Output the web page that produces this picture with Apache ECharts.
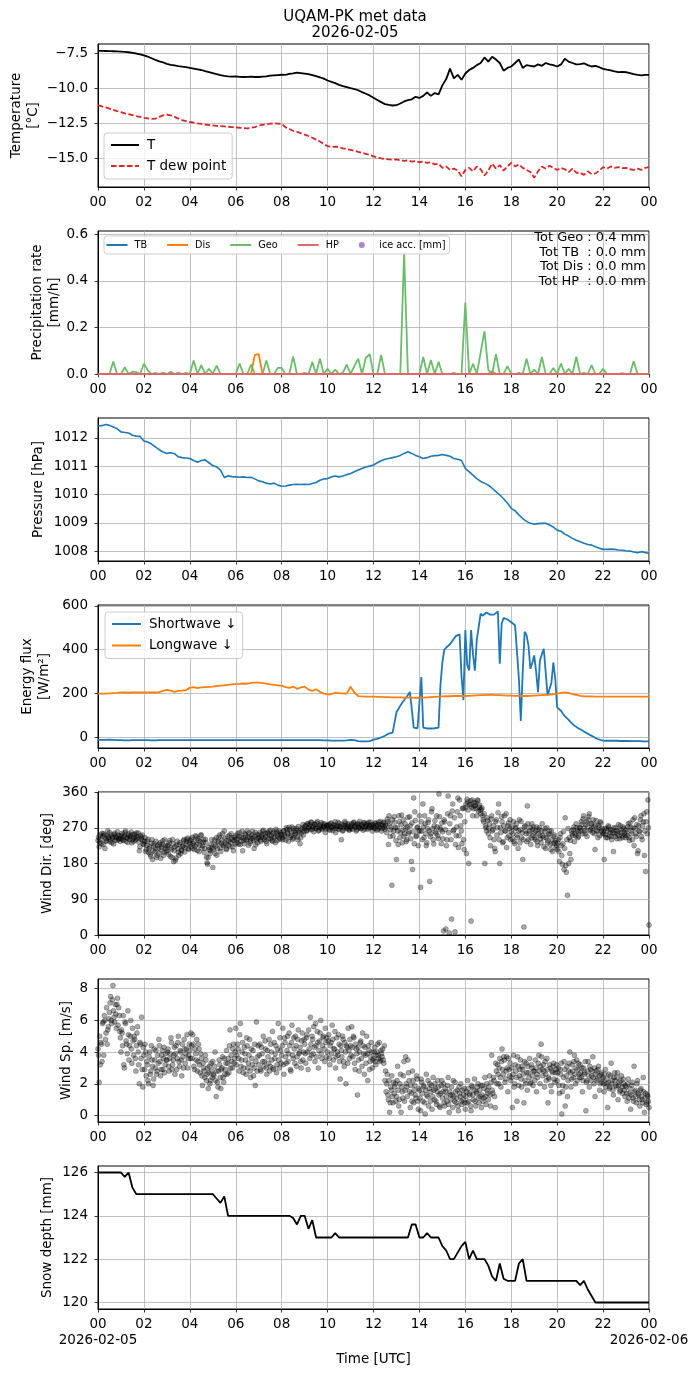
<!DOCTYPE html>
<html>
<head>
<meta charset="utf-8">
<title>UQAM-PK met data</title>
<script src="https://cdn.jsdelivr.net/npm/echarts@6.0.0/dist/echarts.min.js"></script>
<style>
  html, body { margin: 0; padding: 0; background: #fff; }
  #main { width: 699px; height: 1377px; }
</style>
</head>
<body>
<div id="main"></div>
<script>
// ---------- data (hours UTC) ----------

// 10-min values, 00:00 .. 24:00
var T = [
  -7.33,-7.33,-7.34,-7.35,-7.36,-7.37,
  -7.38,-7.40,-7.43,-7.47,-7.52,-7.58,
  -7.65,-7.74,-7.86,-7.98,-8.08,-8.16,
  -8.26,-8.33,-8.37,-8.42,-8.46,-8.49,
  -8.55,-8.60,-8.65,-8.70,-8.78,-8.85,
  -8.93,-9.00,-9.07,-9.12,-9.16,-9.18,
  -9.15,-9.19,-9.20,-9.19,-9.18,-9.20,
  -9.20,-9.17,-9.15,-9.10,-9.08,-9.06,
  -9.04,-9.05,-8.98,-8.94,-8.88,-8.92,
  -8.96,-9.00,-9.06,-9.14,-9.22,-9.32,
  -9.45,-9.55,-9.64,-9.76,-9.85,-9.92,
  -10.00,-10.06,-10.15,-10.28,-10.40,-10.52,
  -10.68,-10.84,-11.00,-11.14,-11.20,-11.24,
  -11.22,-11.10,-10.95,-10.85,-10.80,-10.62,
  -10.70,-10.55,-10.30,-10.55,-10.35,-10.45,
  -9.80,-9.35,-8.60,-9.30,-9.05,-9.40,
  -8.95,-8.70,-8.55,-8.35,-8.20,-7.80,
  -8.10,-7.75,-7.95,-8.20,-8.75,-8.55,
  -8.45,-8.20,-7.95,-8.55,-8.35,-8.40,
  -8.45,-8.30,-8.40,-8.20,-8.30,-8.35,
  -8.45,-8.30,-7.90,-8.10,-8.20,-8.30,
  -8.28,-8.22,-8.35,-8.45,-8.40,-8.50,
  -8.62,-8.68,-8.72,-8.80,-8.85,-8.83,
  -8.86,-8.92,-9.00,-9.05,-9.08,-9.05,
  -9.05
];
var Td = [
  -11.22,-11.30,-11.38,-11.46,-11.55,-11.64,
  -11.72,-11.80,-11.86,-11.93,-12.00,-12.06,
  -12.12,-12.16,-12.20,-12.18,-12.05,-11.95,
  -11.90,-11.95,-12.05,-12.18,-12.28,-12.35,
  -12.42,-12.47,-12.52,-12.56,-12.60,-12.64,
  -12.66,-12.70,-12.72,-12.74,-12.76,-12.78,
  -12.80,-12.83,-12.85,-12.87,-12.84,-12.78,
  -12.68,-12.62,-12.58,-12.54,-12.52,-12.53,
  -12.55,-12.80,-12.92,-13.05,-13.12,-13.22,
  -13.32,-13.42,-13.55,-13.68,-13.82,-13.98,
  -14.15,-14.20,-14.18,-14.22,-14.30,-14.36,
  -14.42,-14.48,-14.55,-14.62,-14.70,-14.78,
  -14.88,-14.96,-15.02,-15.06,-15.10,-15.12,
  -15.10,-15.15,-15.20,-15.15,-15.25,-15.22,
  -15.30,-15.25,-15.35,-15.30,-15.45,-15.40,
  -15.70,-15.60,-15.85,-15.75,-15.90,-16.30,
  -15.85,-15.70,-15.95,-15.60,-15.80,-16.25,
  -15.90,-15.40,-15.75,-15.50,-15.90,-15.60,
  -15.35,-15.60,-15.45,-15.70,-15.85,-16.00,
  -16.40,-15.95,-15.60,-15.75,-15.55,-15.70,
  -15.85,-15.70,-15.80,-16.00,-15.75,-16.05,
  -16.05,-16.20,-15.95,-16.15,-16.10,-15.90,
  -15.65,-15.75,-15.60,-15.70,-15.65,-15.72,
  -15.70,-15.80,-15.85,-15.75,-15.85,-15.70,
  -15.65
];

// precipitation rate [mm/h], 10-min
var precipTB = [
  0,0,0,0,0,0, 0,0,0,0,0,0, 0,0,0,0,0,0, 0,0,0,0,0,0,
  0,0,0,0,0,0, 0,0,0,0,0,0, 0,0,0,0,0,0, 0,0,0,0,0,0,
  0,0,0,0,0,0, 0,0,0,0,0,0, 0,0,0,0,0,0, 0,0,0,0,0,0,
  0,0,0,0,0,0, 0,0,0,0,0,0, 0,0,0,0,0,0, 0,0,0,0,0,0,
  0,0,0,0,0,0, 0,0,0,0,0,0, 0,0,0,0,0,0, 0,0,0,0,0,0,
  0,0,0,0,0,0, 0,0,0,0,0,0, 0,0,0,0,0,0, 0,0,0,0,0,0,
  0
];
var precipDis = [
  0,0,0,0,0,0, 0,0,0,0,0,0, 0,0,0,0,0,0, 0,0,0,0,0,0,
  0,0,0,0,0,0, 0,0,0,0,0,0, 0,0,0,0,0,0.082, 0.085,0,0,0,0,0,
  0,0,0,0,0,0, 0,0,0,0,0,0, 0,0,0,0,0,0, 0,0,0,0,0,0,
  0,0,0,0,0,0, 0,0,0,0,0,0, 0,0,0,0,0,0, 0,0,0,0,0,0,
  0,0,0,0,0,0, 0.0,0.012,0,0,0,0, 0,0,0,0,0,0, 0,0,0,0,0,0,
  0,0,0,0,0,0, 0,0,0,0,0,0, 0,0,0,0,0,0, 0,0,0,0,0,0,
  0
];
var precipGeo = [
  0,0,0,0,0.054,0,
  0,0.029,0,0.01,0.008,0,
  0.044,0.016,0,0.005,0,0.006,
  0,0.01,0,0.006,0,0.005,
  0,0.058,0,0.038,0,0.023,
  0,0.036,0,0,0,0,
  0,0.045,0,0,0.041,0,
  0,0,0.058,0,0,0.026,
  0.026,0,0,0.076,0,0,
  0.005,0,0.051,0,0.066,0,
  0.022,0,0.019,0,0.006,0.041,
  0,0.034,0.066,0,0.07,0.085,
  0,0,0.082,0,0,0,
  0,0,0.52,0,0,0,
  0,0.073,0,0.06,0,0.053,
  0,0,0,0.005,0,0,
  0.307,0,0.044,0,0.092,0.184,
  0.019,0,0.085,0,0,0.034,
  0,0,0.005,0,0.066,0,
  0.019,0,0.073,0,0,0.026,
  0,0.045,0,0.022,0,0.074,
  0,0.005,0,0.038,0,0,
  0.022,0,0,0,0,0.004,
  0,0,0.055,0,0,0,
  0
];
var precipHP = [
  0,0,0,0,0,0, 0,0,0,0,0,0, 0,0,0,0,0,0, 0,0,0,0,0,0,
  0,0,0,0,0,0, 0,0,0,0,0,0, 0,0,0,0,0,0, 0,0,0,0,0,0,
  0,0,0,0,0,0, 0,0,0,0,0,0, 0,0,0,0,0,0, 0,0,0,0,0,0,
  0,0,0,0,0,0, 0,0,0,0,0,0, 0,0,0,0,0,0, 0,0,0,0,0,0,
  0,0,0,0,0,0, 0,0,0,0,0,0, 0,0,0,0,0,0, 0,0,0,0,0,0,
  0,0,0,0,0,0, 0,0,0,0,0,0, 0,0,0,0,0,0, 0,0,0,0,0,0,
  0
];
var iceAcc = [];
var precipTotals = ['Tot Geo : 0.4 mm', 'Tot TB  : 0.0 mm', 'Tot Dis : 0.0 mm', 'Tot HP  : 0.0 mm'];

// pressure [hPa], 10-min
var pressure = [
  1012.42,1012.43,1012.47,1012.44,1012.38,1012.32,
  1012.21,1012.19,1012.17,1012.09,1012.06,1012.05,
  1011.89,1011.85,1011.78,1011.68,1011.58,1011.50,
  1011.45,1011.47,1011.44,1011.33,1011.30,1011.29,
  1011.27,1011.20,1011.14,1011.20,1011.22,1011.12,
  1011.02,1010.97,1010.86,1010.60,1010.66,1010.63,
  1010.62,1010.61,1010.62,1010.60,1010.61,1010.55,
  1010.48,1010.45,1010.40,1010.37,1010.40,1010.33,
  1010.29,1010.30,1010.33,1010.35,1010.36,1010.35,
  1010.36,1010.35,1010.39,1010.42,1010.50,1010.55,
  1010.56,1010.62,1010.65,1010.62,1010.65,1010.70,
  1010.74,1010.80,1010.86,1010.92,1010.97,1011.00,
  1011.04,1011.12,1011.19,1011.24,1011.27,1011.30,
  1011.33,1011.38,1011.45,1011.51,1011.45,1011.38,
  1011.33,1011.27,1011.30,1011.35,1011.37,1011.38,
  1011.41,1011.38,1011.35,1011.27,1011.24,1011.20,
  1010.92,1010.80,1010.68,1010.56,1010.46,1010.40,
  1010.33,1010.22,1010.10,1009.98,1009.85,1009.70,
  1009.51,1009.42,1009.28,1009.15,1009.05,1008.98,
  1008.95,1008.97,1008.98,1008.98,1008.92,1008.85,
  1008.74,1008.70,1008.60,1008.53,1008.45,1008.38,
  1008.33,1008.28,1008.23,1008.21,1008.15,1008.10,
  1008.06,1008.06,1008.07,1008.06,1008.04,1008.03,
  1008.01,1008.00,1007.97,1007.94,1007.98,1007.95,
  1007.92
];

// shortwave down [W/m2], 5-min
var shortwave = [
  -11,-11,-11,-11,-11,-10,-10,-11,-11,-12,-12,-12,
  -12,-12,-13,-13,-13,-13,-12,-12,-12,-12,-12,-12,
  -12,-12,-12,-12,-13,-13,-13,-13,-12,-12,-12,-12,
  -12,-12,-12,-12,-12,-12,-12,-12,-12,-12,-12,-12,
  -12,-12,-12,-12,-12,-12,-12,-12,-12,-12,-12,-12,
  -12,-12,-12,-12,-12,-12,-12,-12,-12,-12,-12,-12,
  -12,-12,-12,-12,-12,-12,-12,-12,-12,-12,-12,-12,
  -12,-12,-12,-12,-12,-12,-12,-12,-12,-12,-12,-12,
  -12,-12,-12,-12,-12,-12,-12,-12,-12,-12,-12,-12,
  -12,-12,-12,-12,-12,-12,-12,-12,-12,-13,-13,-13,
  -13,-13,-14,-14,-14,-14,-14,-14,-14,-13,-13,-13,
  -11,-10,-12,-15,-17,-18,-18,-18,-18,-18,-17,-16,
  -10,-8,-6,-3,0,4,8,12,18,15,22,30,
  115,130,145,158,170,182,194,208,130,45,38,42,
  46,275,45,42,41,41,41,41,42,43,45,240,
  342,400,410,418,425,438,450,462,469,470,280,170,
  490,330,305,490,380,305,445,453,565,555,560,570,
  575,560,555,560,565,575,336,520,545,545,538,530,
  525,520,512,505,267,75,298,482,466,420,313,340,
  374,300,206,351,380,404,401,191,183,250,342,267,
  137,130,122,108,97,88,80,70,62,54,47,42,
  38,33,28,22,17,12,7,3,-2,-7,-10,-12,
  -14,-15,-15,-15,-15,-15,-15,-15,-15,-16,-16,-16,
  -16,-16,-16,-17,-17,-17,-17,-17,-17,-18,-18,-18,
  -18
];
// longwave down [W/m2], 10-min
var longwave = [
  200,200,200,201,202,203,
  206,205,204,205,205,206,
  205,205,206,205,207,212,
  217,214,208,212,214,216,
  226,230,225,228,230,231,
  232,234,236,238,240,242,
  243,244,246,245,249,250,
  250,248,245,242,240,238,
  236,230,226,232,222,228,
  232,218,212,220,208,200,
  196,198,204,202,201,200,
  231,205,189,187,186,186,
  186,185,185,184,184,183,
  183,183,182,182,182,181,
  181,182,183,184,185,186,
  187,188,188,189,189,189,
  189,190,191,192,193,193,
  194,194,193,193,192,191,
  191,190,190,189,189,190,
  191,192,193,194,195,197,
  200,203,206,203,198,194,
  190,188,187,187,186,186,
  186,186,186,186,186,186,
  186,186,186,186,186,186,
  186
];

// wind direction [deg], 3-min samples from 00:00
var windDir = [
  238,222,252,230,248,255,218,236,250,244,258,240,232,247,253,239,245,260,241,249,
  243,256,238,250,262,245,233,251,247,259,240,236,254,248,242,257,212,250,246,238,
  228,245,215,236,208,222,198,240,212,230,218,195,225,206,232,214,228,200,240,218,
  210,226,232,198,215,240,185,222,194,236,208,228,205,212,225,240,220,235,244,215,
  238,222,246,230,215,250,228,242,210,236,252,225,240,218,232,182,195,215,212,240,
  170,228,205,245,218,232,252,210,240,225,262,230,215,248,236,222,255,240,212,246,
  250,232,242,258,228,246,212,238,255,240,262,226,248,236,252,244,218,258,240,232,
  245,258,236,252,264,240,248,230,256,262,242,250,236,260,248,266,238,254,244,258,
  252,240,262,248,270,258,236,265,250,272,244,260,255,268,240,262,230,256,270,252,
  268,276,262,280,270,265,284,272,260,278,268,286,262,274,270,266,280,272,258,276,
  270,278,264,282,272,268,276,258,274,284,266,272,240,262,270,286,274,268,280,264,
  272,280,266,284,274,262,278,270,286,268,276,264,282,272,278,266,284,270,276,262,
  274,268,282,264,278,270,286,262,276,284,266,272,292,228,280,265,125,250,298,270,
  190,262,300,245,278,232,290,255,268,240,296,260,275,185,165,345,310,248,270,225,
  300,120,262,330,245,280,225,268,290,135,255,318,240,275,260,300,250,355,270,230,
  260,10,285,15,240,350,5,300,40,330,265,8,250,310,220,340,275,230,320,215,
  320,205,335,180,328,35,340,318,325,332,300,338,322,315,316,300,285,180,270,295,
  255,280,225,300,265,240,210,290,270,330,180,258,285,235,300,262,220,275,250,290,
  260,242,285,230,270,252,218,290,265,245,190,20,275,255,325,240,262,228,280,250,
  258,240,272,225,265,250,232,280,245,260,218,270,238,255,228,262,210,248,232,220,
  215,240,185,255,200,230,165,295,158,100,180,205,190,255,265,235,250,270,245,260,
  270,285,255,300,262,278,248,290,305,265,280,258,272,215,288,262,276,250,282,268,
  260,190,252,268,245,272,258,248,264,210,255,270,242,262,250,275,258,245,268,252,
  265,250,280,238,270,255,290,225,268,248,205,275,260,300,240,285,200,160,310,340,
  25
];
// wind direction [deg], 3-min samples from 00:01:30
var windDirB = [
  246,233,241,256,228,251,243,237,262,247,235,252,244,229,256,248,238,251,243,236,
  251,240,247,258,236,244,255,241,249,232,253,245,239,257,246,234,222,241,252,229,
  235,210,226,241,217,203,231,190,224,209,236,201,218,228,193,221,237,208,225,212,
  224,203,238,219,195,229,212,188,226,217,201,233,214,222,238,209,228,241,218,232,
  229,241,218,235,224,247,213,238,226,251,219,233,208,241,196,178,221,205,228,219,
  215,239,224,201,236,247,219,231,255,228,243,217,238,226,251,233,244,222,238,229,
  241,255,229,248,236,261,244,230,252,239,246,257,231,243,261,238,249,227,253,244,
  252,239,247,261,244,255,236,258,243,251,264,238,256,245,232,259,249,262,241,253,
  245,262,251,239,266,254,271,246,259,241,268,252,263,247,273,258,244,266,278,261,
  274,263,281,269,277,284,266,273,279,268,282,271,264,277,283,269,274,280,267,275,
  276,266,280,271,263,277,285,269,275,267,281,273,278,264,276,282,270,277,265,273,
  268,277,283,271,276,265,281,274,269,279,272,283,267,275,281,270,276,284,271,278,
  270,281,276,266,284,272,278,268,282,271,277,258,285,300,248,272,290,262,284,238,
  270,228,285,258,302,264,248,280,235,272,255,298,242,282,260,230,288,250,272,262,
  262,285,240,272,300,255,232,283,262,248,310,268,229,288,256,272,243,298,265,282,
  242,290,265,225,305,258,280,240,312,262,295,228,272,345,250,300,262,318,240,285,
  330,342,315,328,338,322,300,334,326,318,340,312,327,305,320,290,305,275,262,288,
  268,245,292,262,275,218,285,252,308,240,270,298,232,275,262,305,245,282,268,240,
  272,255,235,268,280,245,262,232,286,258,240,272,262,235,280,255,270,244,266,272,
  245,262,235,255,270,242,262,250,222,268,245,232,252,262,215,240,230,252,238,226,
  232,210,245,225,178,260,218,175,240,268,245,238,262,250,272,256,280,262,248,270,
  262,278,292,268,255,285,272,298,262,280,268,290,255,276,262,245,270,285,262,255,
  255,268,245,262,275,250,265,240,258,270,248,262,255,278,242,265,250,272,258,245,
  258,272,245,282,262,240,270,295,255,278,212,262,290,248,275,305,262,285,255,270
];
// wind speed [m/s], 3-min samples from 00:00
var windSpd = [
  4.2,2.1,3.2,4.5,5.8,3.8,6.0,5.2,4.5,5.6,6.5,7.5,5.8,8.2,6.2,7.0,5.5,7.4,6.8,5.3,
  4.0,5.2,6.3,3.0,5.8,4.5,6.6,3.5,5.0,4.2,5.5,3.8,4.8,2.8,5.2,4.0,2.0,4.5,6.2,1.8,
  3.8,4.5,2.5,3.2,2.0,4.0,2.8,3.5,1.9,4.2,3.0,2.6,3.8,4.8,3.4,2.9,4.1,3.6,2.7,3.9,
  3.5,4.2,2.8,3.9,4.6,3.2,3.8,2.6,4.4,3.6,5.0,3.1,4.0,2.5,3.7,4.8,3.3,4.2,3.0,3.8,
  4.1,5.2,3.6,4.5,2.9,3.9,4.8,3.4,4.2,2.7,3.6,1.9,3.0,2.4,3.5,2.6,1.7,3.1,2.2,2.8,
  3.4,2.5,4.0,1.2,2.1,2.8,3.2,1.7,3.0,2.4,3.6,2.9,4.1,3.3,2.7,5.4,3.8,3.0,4.5,3.6,
  5.5,3.8,4.2,2.8,5.8,3.5,4.6,3.0,3.9,2.6,4.4,3.3,4.8,2.4,3.6,4.1,3.0,1.9,5.9,3.7,
  3.2,4.5,2.8,3.9,5.0,3.4,4.2,2.6,3.7,4.8,3.1,4.0,5.3,2.9,3.6,4.4,3.2,5.8,3.0,4.1,
  3.8,5.5,2.6,4.6,3.3,5.0,3.9,4.4,2.8,5.7,3.6,4.2,5.0,3.1,4.8,3.9,4.3,3.0,5.2,4.0,
  4.5,3.3,5.1,2.9,4.2,6.2,3.8,4.8,5.6,3.4,4.4,5.3,3.0,4.7,6.0,3.6,4.9,4.2,5.5,3.7,
  4.0,5.1,3.2,4.6,5.7,3.5,4.2,3.0,4.9,3.8,4.5,2.3,4.1,5.0,3.4,4.6,2.0,4.3,5.5,3.6,
  4.4,5.6,3.7,4.9,2.9,4.2,1.3,3.5,4.0,4.7,3.1,4.4,2.6,3.8,5.0,2.2,4.1,3.4,4.6,3.0,
  3.6,4.3,3.2,4.0,3.8,4.6,3.5,3.9,4.2,3.3,2.2,1.5,2.6,1.0,0.2,1.8,2.5,0.8,1.4,2.0,
  1.2,3.1,0.6,2.0,0.2,1.5,2.5,0.9,3.7,1.8,3.5,2.2,0.5,1.4,2.8,0.8,1.9,1.1,2.3,0.4,
  1.6,0.3,2.1,0.9,1.8,0.1,2.6,1.2,0.6,2.0,1.5,0.4,2.4,1.0,1.7,0.7,2.2,1.3,0.5,1.9,
  1.1,2.0,0.6,1.5,0.9,2.4,0.2,1.3,1.8,0.5,1.2,2.1,0.8,1.6,0.3,1.4,2.0,0.7,1.0,1.7,
  0.4,1.5,2.2,0.9,1.3,0.3,1.8,1.0,2.3,0.6,1.4,2.0,0.8,1.2,0.5,1.9,1.1,2.4,0.7,1.6,
  1.0,2.5,0.6,3.8,1.4,2.2,0.5,2.8,3.2,2.0,3.6,1.8,4.2,2.6,3.5,2.3,3.7,1.5,2.9,3.3,
  2.4,0.5,3.8,2.0,2.8,0.9,3.1,2.5,3.5,1.8,2.9,0.8,2.2,3.3,1.6,2.7,3.6,2.1,3.0,1.9,
  2.8,3.5,1.5,2.4,3.8,2.0,4.5,2.9,3.2,1.8,2.6,3.6,0.8,2.3,3.0,1.5,2.7,3.3,2.1,2.9,
  2.2,3.0,1.4,2.6,0.1,1.9,3.4,0.6,2.5,1.2,2.8,4.0,1.8,3.2,2.4,3.8,2.0,3.5,2.9,2.6,
  3.2,2.4,1.5,3.0,2.7,0.3,2.2,3.4,1.8,2.9,2.5,3.7,2.0,1.2,2.8,2.3,3.1,1.6,2.6,2.1,
  2.4,1.5,2.9,2.0,0.5,2.6,1.8,3.3,2.2,1.3,2.7,1.9,2.4,1.0,2.1,1.6,2.5,1.4,2.0,1.2,
  1.8,0.9,2.3,1.4,0.4,1.9,1.1,3.1,1.6,0.8,2.2,1.3,0.6,1.7,1.0,2.4,0.2,1.4,0.8,1.2,
  0.5
];
// wind speed [m/s], 3-min samples from 00:01:30
var windSpdB = [
  3.8,5.0,4.6,3.4,5.9,6.3,4.8,6.8,5.4,6.1,7.1,6.0,7.3,6.6,5.9,6.4,7.0,5.7,6.3,4.9,
  5.4,4.4,3.2,5.9,4.7,3.9,5.1,4.4,6.0,3.3,4.7,5.0,3.6,4.4,5.6,3.2,4.6,3.6,2.9,4.3,
  2.9,4.0,3.4,2.2,3.7,2.6,4.4,3.1,2.3,3.5,4.1,2.8,3.3,4.4,2.5,3.8,2.9,4.3,3.2,3.5,
  4.0,3.1,3.6,4.9,2.9,3.5,4.3,3.9,2.9,4.6,3.4,4.1,3.5,4.5,3.0,4.2,3.9,5.1,3.6,4.5,
  3.6,4.4,5.1,3.1,4.2,3.5,2.8,4.5,3.2,3.9,2.5,3.3,2.8,3.8,2.2,3.0,2.7,2.0,3.3,2.4,
  2.6,3.1,2.2,2.8,1.8,3.5,2.4,2.9,3.7,2.1,2.6,3.3,2.6,3.6,4.4,3.0,3.4,4.2,3.3,4.0,
  3.2,4.5,3.6,5.1,3.1,4.0,2.7,4.3,3.5,4.9,3.0,3.8,2.8,4.2,3.2,2.5,4.5,3.4,2.8,4.4,
  3.8,2.9,4.3,3.4,3.1,4.7,3.0,4.1,3.3,2.8,4.5,3.5,3.0,4.6,3.9,2.7,4.2,3.5,4.9,3.3,
  4.4,3.2,4.9,3.7,4.1,3.4,5.2,2.9,4.6,3.8,4.9,3.3,4.4,3.7,5.4,4.0,3.4,4.7,3.5,4.8,
  3.9,4.9,4.0,5.4,3.6,4.5,5.0,3.9,4.3,5.8,3.7,4.6,4.1,5.2,3.9,4.4,5.0,3.4,4.6,4.9,
  4.7,3.6,4.4,3.9,4.8,4.2,5.3,3.7,4.0,5.1,3.4,4.4,3.7,4.8,3.1,4.0,4.4,3.3,4.1,4.8,
  3.8,4.3,5.0,3.3,4.5,3.9,4.3,2.8,4.6,3.6,5.2,3.9,4.3,3.3,3.9,4.4,2.9,3.7,4.0,3.5,
  4.0,3.4,3.8,4.5,3.6,3.4,4.1,3.7,3.5,4.4,2.8,2.0,1.3,2.2,0.8,1.6,1.2,2.1,1.8,0.9,
  2.2,1.6,1.0,2.6,1.8,1.1,3.4,1.6,2.0,1.2,2.7,1.5,1.9,0.9,2.2,1.6,1.3,2.5,0.9,1.7,
  1.1,2.3,1.4,1.9,0.8,1.6,1.3,2.2,1.7,0.9,1.9,1.2,1.6,2.0,0.9,1.5,1.8,0.6,1.4,2.2,
  1.5,0.8,1.7,1.2,1.9,0.7,1.5,1.0,1.3,2.2,0.9,1.5,1.1,0.6,1.8,1.2,0.9,1.6,1.3,0.8,
  1.2,0.8,1.7,1.4,0.6,1.9,1.3,1.6,0.9,1.5,1.8,1.1,1.6,1.9,1.3,0.9,1.7,1.2,2.0,1.4,
  1.8,1.3,2.1,1.6,2.4,1.2,3.3,2.0,2.6,3.0,2.4,3.4,2.9,3.7,2.1,2.8,3.0,3.6,2.5,2.2,
  3.0,2.6,1.8,3.2,2.4,3.7,1.9,2.9,2.3,3.1,2.6,3.4,2.0,2.7,3.1,2.4,2.0,3.2,2.5,2.8,
  2.2,3.0,2.6,3.3,2.8,3.1,3.7,2.5,2.8,3.4,2.2,2.9,2.4,3.2,1.9,2.8,3.1,2.3,2.7,3.2,
  2.7,1.9,2.9,3.3,1.5,2.4,2.9,1.8,3.1,2.2,3.3,2.7,2.3,2.8,3.4,2.6,3.0,2.2,3.3,2.4,
  2.7,3.0,2.2,2.6,3.4,2.1,2.8,2.5,3.1,2.2,2.8,2.4,3.0,2.6,2.2,2.9,2.5,2.0,2.7,2.3,
  2.0,2.6,1.8,2.3,2.1,1.7,2.5,2.0,1.6,2.4,2.2,1.8,2.7,1.9,1.5,2.2,1.8,2.3,1.6,1.9,
  1.4,2.0,1.1,1.7,1.3,2.1,0.9,1.5,1.2,2.0,1.4,1.0,1.6,1.2,0.8,1.5,1.1,0.7,1.3,0.9
];

// snow depth [mm], 10-min
var snowDepth = [
  126,126,126,126,126,126,
  126,125.8,126,125.3,125,125,
  125,125,125,125,125,125,
  125,125,125,125,125,125,
  125,125,125,125,125,125,
  125,124.8,124.6,124.9,124,124,
  124,124,124,124,124,124,
  124,124,124,124,124,124,
  124,124,124,123.9,123.6,124,
  124,123.4,123.8,123,123,123,
  123,123,123.2,123,123,123,
  123,123,123,123,123,123,
  123,123,123,123,123,123,
  123,123,123,123,123.6,123.6,
  123,123,123.2,123,123,123,
  122.6,122.4,122,122,122.3,122.6,
  122.8,122,122.4,122,122,122,
  121.7,121.2,121,121.8,121.1,121,
  121,121,121.8,122,121,121,
  121,121,121,121,121,121,
  121,121,121,121,121,121,
  120.8,121,120.6,120.3,120,120,
  120,120,120,120,120,120,
  120,120,120,120,120,120,
  120
];

// tick labels per panel
var tempTicks = [-15, -12.5, -10, -7.5];
var precipTicks = [0, 0.2, 0.4, 0.6];
var pressTicks = [1008, 1009, 1010, 1011, 1012];
var fluxTicks = [0, 200, 400, 600];
var dirTicks = [0, 90, 180, 270, 360];
var spdTicks = [0, 2, 4, 6, 8];
var snowTicks = [120, 122, 124, 126];
var dayLabels = ['2026-02-05', '2026-02-06'];

// ---------- chart ----------
var FONT = 'DejaVu Sans';
var tops = [44, 231, 418, 605, 792, 979, 1166];
var lineColor = '#000';

// sample index -> hour of day
function pairs(values, perHour, offset) {
    var o = offset || 0;
    return values.map(function (v, i) { return [(i + o) / perHour, v]; });
}

function hourLabel(v) {
    var h = Math.round(v) % 24;
    return (h < 10 ? '0' : '') + h;
}

function xAxisFor(i) {
    var last = i === tops.length - 1;
    return {
        type: 'value', gridIndex: i, min: 0, max: 24, interval: 2,
        name: last ? 'Time [UTC]' : '',
        nameLocation: 'middle', nameGap: 43, nameMoveOverlap: false,
        nameTextStyle: { color: '#000', fontFamily: FONT, fontSize: 13.5 },
        axisLine: { show: true, onZero: false, lineStyle: { color: lineColor, width: 1 } },
        axisTick: { length: 3.5, lineStyle: { color: lineColor, width: 0.8 } },
        axisLabel: {
            margin: 8, color: '#000', fontFamily: FONT, fontSize: 13.5,
            showMinLabel: true, showMaxLabel: true, hideOverlap: false,
            formatter: function (v) {
                // the two ends of the last axis are drawn with their dates below
                if (last && (v === 0 || v === 24)) return '';
                return hourLabel(v);
            }
        },
        splitLine: { show: true, lineStyle: { color: '#b0b0b0', width: 0.8 } }
    };
}

function yAxisFor(i, name, gap, min, max, ticks, fmt) {
    return {
        type: 'value', gridIndex: i, min: min, max: max,
        name: name, nameLocation: 'middle', nameGap: gap, nameRotate: 90, nameMoveOverlap: false,
        nameTextStyle: { color: '#000', fontFamily: FONT, fontSize: 13.5, lineHeight: 17 },
        axisLine: { show: true, onZero: false, lineStyle: { color: lineColor, width: 1 } },
        axisTick: { show: true, length: 3.5, customValues: ticks, lineStyle: { color: lineColor, width: 0.8 } },
        axisLabel: { margin: 10, customValues: ticks, color: '#000', fontFamily: FONT, fontSize: 13.5, formatter: fmt },
        splitLine: { show: true, lineStyle: { color: '#b0b0b0', width: 0.8 } }
    };
}

function minus(s) { return String(s).replace('-', '\u2212'); }

function lineSeries(name, grid, data, color, width, dash) {
    var s = {
        name: name, type: 'line', xAxisIndex: grid, yAxisIndex: grid,
        data: data, symbol: 'none', silent: true,
        lineStyle: { color: color, width: width },
        itemStyle: { color: color }
    };
    if (dash) s.lineStyle.type = dash;
    return s;
}

function scatterSeries(name, grid, data) {
    return {
        name: name, type: 'scatter', xAxisIndex: grid, yAxisIndex: grid,
        data: data, symbolSize: 5, silent: true,
        itemStyle: { color: 'rgba(0,0,0,0.42)', borderColor: 'rgba(0,0,0,0.5)', borderWidth: 0.6 }
    };
}

function text(x, y, str, size, align) {
    return { type: 'text', x: x, y: y, z: 100,
             style: { text: str, fill: '#000', fontFamily: FONT, fontSize: size, align: align || 'center', verticalAlign: 'middle' } };
}

var legendBase = {
    selectedMode: false,
    backgroundColor: 'rgba(255,255,255,0.8)',
    borderColor: '#cccccc', borderWidth: 1, borderRadius: 3
};

var dashIcon = 'path://M0,0h5.5v2h-5.5z M8,0h5.5v2h-5.5z M16,0h5.5v2h-5.5z M24,0h4v2h-4z';
var barIcon = 'path://M0,0h21v2h-21z';

var chart = echarts.init(document.getElementById('main'));

var grids = tops.map(function (t) {
    return { left: 98, top: t, width: 551, height: 143, show: true, borderColor: '#000', borderWidth: 1, outerBoundsMode: 'none' };
});

var xAxes = tops.map(function (t, i) { return xAxisFor(i); });

var yAxes = [
    yAxisFor(0, 'Temperature\n[\u00b0C]', 56, -17.07, -6.84, tempTicks, function (v) { return minus(v.toFixed(1)); }),
    yAxisFor(1, 'Precipitation rate\n[mm/h]', 35, 0, 0.615, precipTicks, function (v) { return v.toFixed(1); }),
    yAxisFor(2, 'Pressure [hPa]', 51, 1007.65, 1012.70, pressTicks, function (v) { return String(v); }),
    yAxisFor(3, 'Energy flux\n[W/m\u00b2]', 45, -48, 604, fluxTicks, function (v) { return String(v); }),
    yAxisFor(4, 'Wind Dir. [deg]', 42, 0, 360, dirTicks, function (v) { return String(v); }),
    yAxisFor(5, 'Wind Sp. [m/s]', 23, -0.41, 8.61, spdTicks, function (v) { return String(v); }),
    yAxisFor(6, 'Snow depth [mm]', 42, 119.7, 126.3, snowTicks, function (v) { return String(v); })
];

var option = {
    animation: false,
    backgroundColor: '#fff',
    textStyle: { fontFamily: FONT },
    grid: grids,
    xAxis: xAxes,
    yAxis: yAxes,
    legend: [
        Object.assign({}, legendBase, {
            orient: 'vertical', left: 104, top: 133, padding: [4, 6, 5, 7],
            itemWidth: 28, itemHeight: 2, itemGap: 5,
            textStyle: { color: '#000', fontFamily: FONT, fontSize: 13.5, lineHeight: 16, padding: [0, 0, 0, 3] },
            data: [{ name: 'T', icon: 'rect' }, { name: 'T dew point', icon: dashIcon }]
        }),
        Object.assign({}, legendBase, {
            orient: 'horizontal', left: 104, top: 236, padding: [3, 4, 3, 2.5],
            itemWidth: 21, itemHeight: 6, itemGap: 20,
            textStyle: { color: '#000', fontFamily: FONT, fontSize: 9.7, lineHeight: 12, padding: [0, 0, 0, 2] },
            data: [
                { name: 'TB', icon: barIcon }, { name: 'Dis', icon: barIcon },
                { name: 'Geo', icon: barIcon }, { name: 'HP', icon: barIcon },
                { name: 'ice acc. [mm]', icon: 'circle' }
            ]
        }),
        Object.assign({}, legendBase, {
            orient: 'vertical', left: 105, top: 612, padding: [4, 6, 5, 7],
            itemWidth: 29, itemHeight: 2, itemGap: 5.5,
            textStyle: { color: '#000', fontFamily: FONT, fontSize: 13.5, lineHeight: 16, padding: [0, 0, 0, 3] },
            data: [{ name: 'Shortwave \u2193', icon: 'rect' }, { name: 'Longwave \u2193', icon: 'rect' }]
        })
    ],
    graphic: [
        text(355, 17, 'UQAM-PK met data', 15),
        text(355, 33, '2026-02-05', 15),
        text(98, 1324, '00', 13.5), text(98, 1340, dayLabels[0], 13.5),
        text(649, 1324, '00', 13.5), text(649, 1340, dayLabels[1], 13.5)
    ].concat(precipTotals.map(function (txt, k) {
        return text(646, 238 + k * 14.5, txt, 13, 'right');
    })),
    series: [
        lineSeries('T', 0, pairs(T, 6), '#000000', 1.8),
        lineSeries('T dew point', 0, pairs(Td, 6), '#d62728', 1.8, [5.5, 2.4]),

        lineSeries('TB', 1, pairs(precipTB, 6), '#1f77b4', 1.8),
        lineSeries('Dis', 1, pairs(precipDis, 6), '#ff7f0e', 1.8),
        lineSeries('Geo', 1, pairs(precipGeo, 6), '#6bbc6b', 1.8),
        lineSeries('HP', 1, pairs(precipHP, 6), '#e26868', 1.8),
        { name: 'ice acc. [mm]', type: 'scatter', xAxisIndex: 1, yAxisIndex: 1, data: iceAcc, itemStyle: { color: '#9467bd' } },

        lineSeries('Pressure', 2, pairs(pressure, 6), '#1f77b4', 1.6),

        lineSeries('Shortwave \u2193', 3, pairs(shortwave, 12), '#1f77b4', 1.8),
        lineSeries('Longwave \u2193', 3, pairs(longwave, 6), '#ff7f0e', 1.8),

        scatterSeries('Wind Dir.', 4, pairs(windDir, 20).concat(pairs(windDirB, 20, 0.5))),
        scatterSeries('Wind Sp.', 5, pairs(windSpd, 20).concat(pairs(windSpdB, 20, 0.5))),

        lineSeries('Snow depth', 6, pairs(snowDepth, 6), '#000000', 1.8)
    ]
};

chart.setOption(option);
</script>
</body>
</html>
